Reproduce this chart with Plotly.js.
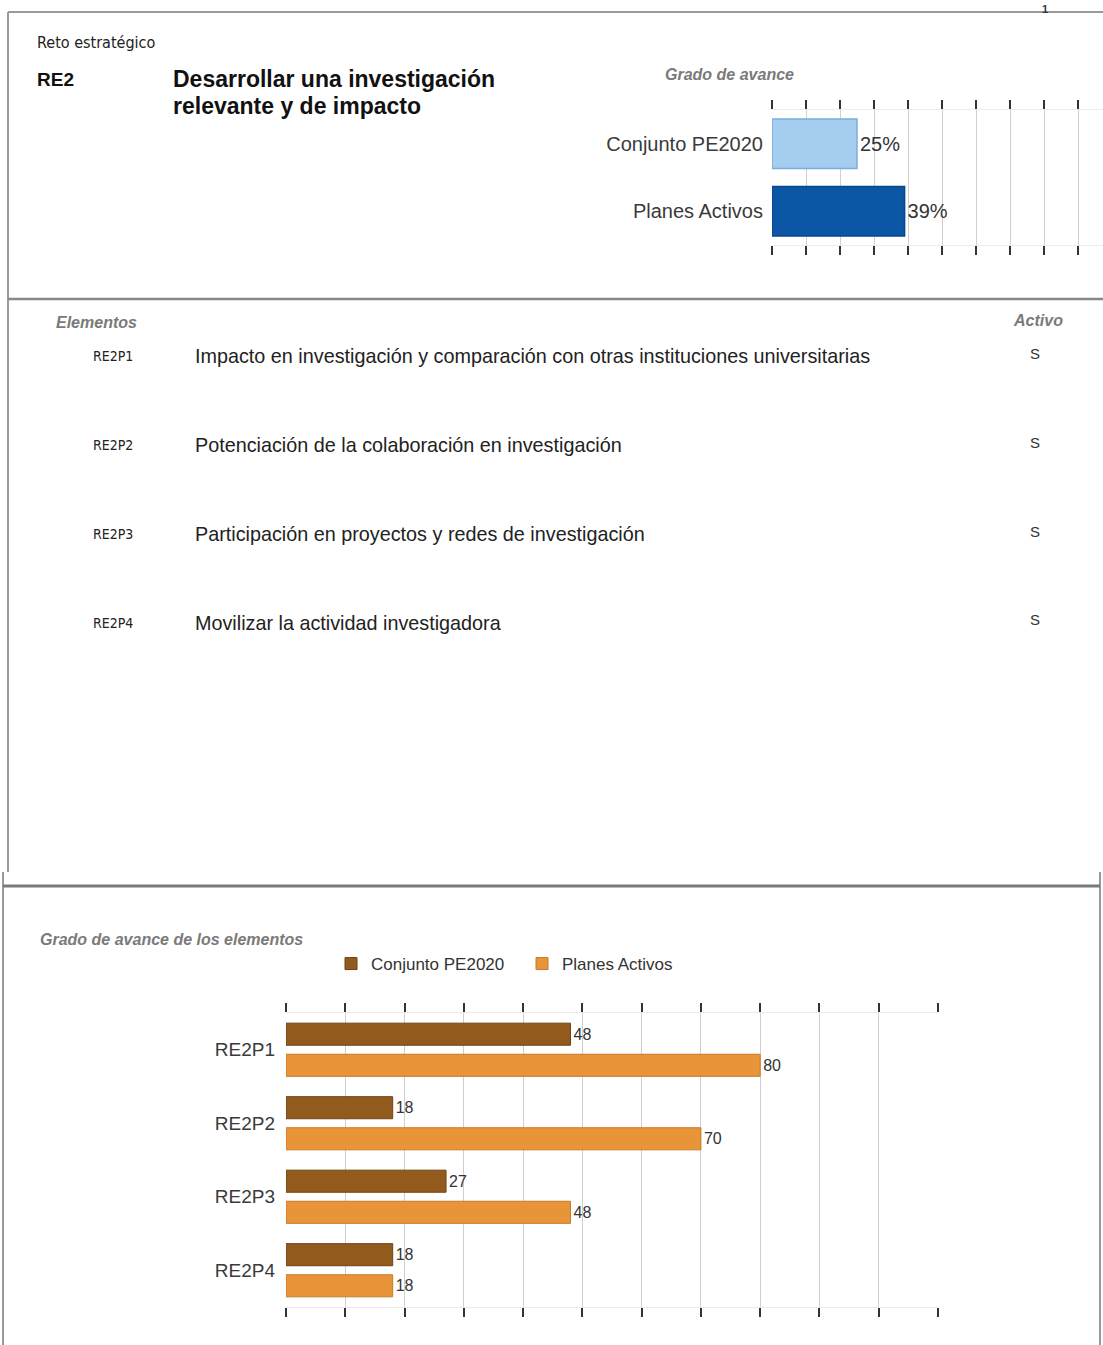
<!DOCTYPE html>
<html>
<head>
<meta charset="utf-8">
<script src="https://cdn.plot.ly/plotly-3.0.1.min.js"></script>
<style>
html,body{margin:0;padding:0;background:#fff;overflow:hidden;}
#chart{width:1103px;height:1345px;}
</style>
</head>
<body>
<div id="chart"></div>
<script>
// ---- data ----
const avanceCategorias = ["Conjunto PE2020", "Planes Activos"];
const avanceValores = [25, 39];

const elementoCodigos = ["RE2P1", "RE2P2", "RE2P3", "RE2P4"];
const elementoNombres = [
  "Impacto en investigación y comparación con otras instituciones universitarias",
  "Potenciación de la colaboración en investigación",
  "Participación en proyectos y redes de investigación",
  "Movilizar la actividad investigadora"
];
const elementoActivo = ["S", "S", "S", "S"];

const serieConjunto = [48, 18, 27, 18];
const seriePlanes = [80, 70, 48, 18];
const serieNombres = ["Conjunto PE2020", "Planes Activos"];

// ---- layout helpers (pixel -> paper) ----
const W = 1103, H = 1345;
const px = x => x / W;
const py = y => 1 - y / H;

const FONT = "Liberation Sans, Arial, sans-serif";
const NARROW = "DejaVu Sans Condensed, Liberation Sans Narrow, Arial, sans-serif";

const traces = [
  {
    type: "bar", orientation: "h",
    y: avanceCategorias, x: avanceValores,
    xaxis: "x", yaxis: "y",
    width: 0.73,
    marker: {color: ["#a4cdf0", "#0c56a6"], line: {color: ["#79aede", "#0a468a"], width: 1.5}},
    text: avanceValores.map(v => v + "%"),
    textposition: "outside", cliponaxis: false,
    textfont: {family: FONT, size: 20, color: "#333"},
    showlegend: false, hoverinfo: "skip"
  },
  {
    type: "bar", orientation: "h", name: serieNombres[0],
    y: elementoCodigos, x: serieConjunto,
    xaxis: "x2", yaxis: "y2",
    marker: {color: "#935a1e", line: {color: "#6e4313", width: 1}},
    text: serieConjunto.map(String),
    textposition: "outside", cliponaxis: false,
    textfont: {family: FONT, size: 16, color: "#333"},
    hoverinfo: "skip"
  },
  {
    type: "bar", orientation: "h", name: serieNombres[1],
    y: elementoCodigos, x: seriePlanes,
    xaxis: "x2", yaxis: "y2",
    marker: {color: "#e8953a", line: {color: "#c77a26", width: 1}},
    text: seriePlanes.map(String),
    textposition: "outside", cliponaxis: false,
    textfont: {family: FONT, size: 16, color: "#333"},
    hoverinfo: "skip"
  }
];

const annotations = [];
function ann(text, x, y, opts) {
  annotations.push(Object.assign({
    text: text, x: px(x - 2), y: py(y), xref: "paper", yref: "paper",
    xanchor: "left", yanchor: "middle", showarrow: false,
    font: {family: FONT, size: 14, color: "#222"}
  }, opts || {}));
}
const GRAY_HEAD = {family: FONT, size: 16, color: "#7a7a7a"};
ann("Reto estratégico", 37, 42, {font: {family: NARROW, size: 16, color: "#222"}});
ann("<b>RE2</b>", 37, 80, {font: {family: FONT, size: 19, color: "#111"}});
ann("<b>Desarrollar una investigación</b>", 173, 79, {font: {family: FONT, size: 23, color: "#111"}});
ann("<b>relevante y de impacto</b>", 173, 106, {font: {family: FONT, size: 23, color: "#111"}});
ann("<b><i>Grado de avance</i></b>", 665, 75, {font: GRAY_HEAD});
ann("<b><i>Elementos</i></b>", 56, 323, {font: GRAY_HEAD});
ann("<b><i>Activo</i></b>", 1013, 320, {font: GRAY_HEAD});
ann("<b><i>Grado de avance de los elementos</i></b>", 40, 939, {font: GRAY_HEAD});
ann("<b>1</b>", 1047, 9, {xanchor: "center", font: {family: FONT, size: 11, color: "#334"}});

const rowY = [356, 445, 534, 623];
elementoCodigos.forEach((c, i) => {
  ann(c, 93, rowY[i], {font: {family: NARROW, size: 14, color: "#222"}});
  ann(elementoNombres[i], 195, rowY[i], {font: {family: FONT, size: 19.8, color: "#222"}});
  ann(elementoActivo[i], 1037, rowY[i] - 3, {xanchor: "center", font: {family: FONT, size: 15, color: "#333"}});
});

function line(x0, y0, x1, y1, color, width) {
  return {type: "line", xref: "paper", yref: "paper",
    x0: px(x0), y0: py(y0), x1: px(x1), y1: py(y1),
    line: {color: color, width: width}};
}
const shapes = [
  line(8, 12, 1103, 12, "#9a9a9a", 2),
  line(8, 12, 8, 872, "#9a9a9a", 2),
  line(8, 299, 1103, 299, "#888", 2.5),
  line(3, 872, 3, 1345, "#9a9a9a", 2),
  line(1100, 872, 1100, 1345, "#9a9a9a", 2),
  line(3, 886, 1100, 886, "#7a7a7a", 3)
];

const layout = {
  width: W, height: H,
  margin: {l: 0, r: 0, t: 0, b: 0},
  paper_bgcolor: "#fff", plot_bgcolor: "#fff",
  font: {family: FONT, color: "#333"},
  barmode: "group", bargap: 0.154, bargroupgap: 0.29,
  showlegend: true,
  legend: {
    orientation: "h", x: px(331), y: py(964), xanchor: "left", yanchor: "middle",
    font: {family: FONT, size: 17, color: "#333"},
    entrywidth: 146, entrywidthmode: "pixels",
    bgcolor: "rgba(0,0,0,0)", itemclick: false, itemdoubleclick: false
  },
  xaxis: {
    domain: [px(772), 1], range: [0, (W - 772) / 3.4], dtick: 10, tick0: 0,
    showgrid: true, gridcolor: "#d0d0d0", gridwidth: 1,
    zeroline: false, showticklabels: false,
    ticks: "outside", ticklen: 9, tickwidth: 2, tickcolor: "#333",
    showline: true, linecolor: "#ececec", linewidth: 1, mirror: "ticks",
    fixedrange: true
  },
  yaxis: {
    domain: [py(245), py(110)], autorange: "reversed", type: "category",
    showgrid: false, zeroline: false, ticks: "", ticklabelstandoff: 8,
    tickfont: {family: FONT, size: 20, color: "#3a3a3a"},
    fixedrange: true
  },
  xaxis2: {
    domain: [px(286), px(938)], range: [0, 110], dtick: 10, tick0: 0,
    anchor: "y2",
    showgrid: true, gridcolor: "#cfcfcf", gridwidth: 1,
    zeroline: false, showticklabels: false,
    ticks: "outside", ticklen: 9, tickwidth: 2, tickcolor: "#333",
    showline: true, linecolor: "#ececec", linewidth: 1, mirror: "ticks",
    fixedrange: true
  },
  yaxis2: {
    domain: [py(1307), py(1013)], autorange: "reversed", type: "category",
    anchor: "x2",
    showgrid: false, zeroline: false, ticks: "", ticklabelstandoff: 10,
    tickfont: {family: FONT, size: 19, color: "#3a3a3a"},
    fixedrange: true
  },
  annotations: annotations,
  shapes: shapes
};

Plotly.newPlot("chart", traces, layout, {staticPlot: true, displayModeBar: false});
</script>
</body>
</html>
